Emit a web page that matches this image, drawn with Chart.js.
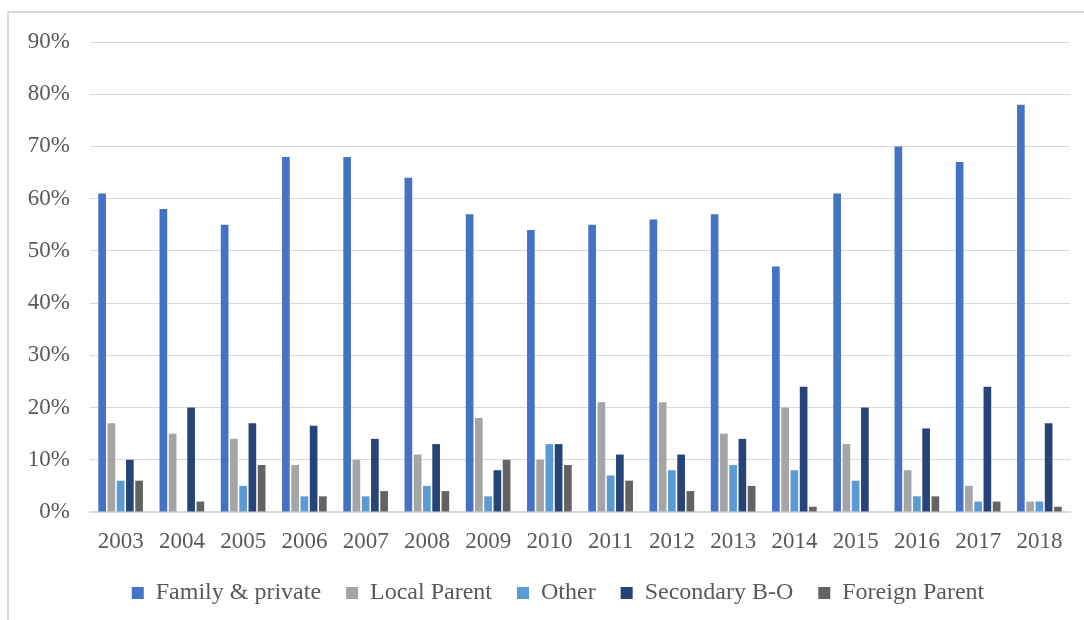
<!DOCTYPE html>
<html>
<head>
<meta charset="utf-8">
<script src="https://cdn.jsdelivr.net/npm/chart.js@4.4.1/dist/chart.umd.min.js"></script>
<style>
  html, body { margin: 0; padding: 0; background: #ffffff; }
  #wrap { position: relative; width: 1084px; height: 620px; overflow: hidden; }
  #frame {
    position: absolute; left: 7px; top: 11px; width: 1100px; height: 640px;
    border-top: 2px solid #d9d9d9; border-left: 2px solid #d9d9d9;
  }
  #c { position: absolute; left: 0; top: 0; }
</style>
</head>
<body>
<div id="wrap">
  <div id="frame"></div>
  <canvas id="c" width="1084" height="620"></canvas>
</div>
<script>
// Years on the category axis
const years = ['2003','2004','2005','2006','2007','2008','2009','2010',
               '2011','2012','2013','2014','2015','2016','2017','2018'];

// Share of each ownership type per year (%)
const familyPrivate = [61, 58, 55, 68, 68, 64, 57, 54, 55, 56, 57, 47, 61, 70, 67, 78];
const localParent   = [17, 15, 14, 9, 10, 11, 18, 10, 21, 21, 15, 20, 13, 8, 5, 2];
const other         = [6, 0, 5, 3, 3, 5, 3, 13, 7, 8, 9, 8, 6, 3, 2, 2];
const secondaryBO   = [10, 20, 17, 16.5, 14, 13, 8, 13, 11, 11, 14, 24, 20, 16, 24, 17];
const foreignParent = [6, 2, 9, 3, 4, 4, 10, 9, 6, 4, 5, 1, 0, 3, 2, 1];

// Value-axis ticks (%)
const yTicks = [0, 10, 20, 30, 40, 50, 60, 70, 80, 90];

const seriesNames  = ['Family & private', 'Local Parent', 'Other', 'Secondary B-O', 'Foreign Parent'];
const seriesValues = [familyPrivate, localParent, other, secondaryBO, foreignParent];
const seriesColors = ['#4472C4', '#A5A5A5', '#5B9BD5', '#264478', '#636363'];

const FONT = "'Liberation Serif', 'Times New Roman', serif";
const TEXT = '#595959';

const datasets = seriesNames.map((name, i) => ({
  label: name,
  data: seriesValues[i],
  backgroundColor: seriesColors[i],
  borderWidth: 0,
  categoryPercentage: 0.755,
  barPercentage: 0.83
}));

// Centre the legend row under the bars rather than under the whole canvas
const legendOffset = {
  id: 'legendOffset',
  afterLayout(chart) {
    if (chart.legend) { chart.legend.left += 46; }
  }
};

new Chart(document.getElementById('c'), {
  type: 'bar',
  data: { labels: years, datasets },
  plugins: [legendOffset],
  options: {
    responsive: false,
    animation: false,
    layout: { padding: { left: 0, right: 14, top: 42, bottom: 5 } },
    plugins: {
      title: { display: false },
      tooltip: { enabled: false },
      legend: {
        position: 'bottom',
        labels: {
          boxWidth: 12,
          boxHeight: 12,
          padding: 25,
          color: TEXT,
          font: { family: FONT, size: 24 }
        }
      }
    },
    scales: {
      x: {
        grid: { display: false, drawTicks: false },
        border: { display: true, color: '#d9d9d9', width: 2 },
        ticks: {
          color: TEXT,
          padding: 16,
          maxRotation: 0,
          autoSkip: false,
          font: { family: FONT, size: 23 }
        },
        afterFit: (s) => { s.height = 44; }
      },
      y: {
        min: yTicks[0],
        max: yTicks[yTicks.length - 1],
        afterBuildTicks: (s) => { s.ticks = yTicks.map(v => ({ value: v })); },
        grid: { color: '#d9d9d9', lineWidth: 1, drawTicks: false },
        border: { display: false },
        ticks: {
          color: TEXT,
          padding: 20,
          font: { family: FONT, size: 23 },
          callback: (v) => v + '%'
        },
        afterFit: (s) => { s.width = 90; }
      }
    }
  }
});
</script>
</body>
</html>
